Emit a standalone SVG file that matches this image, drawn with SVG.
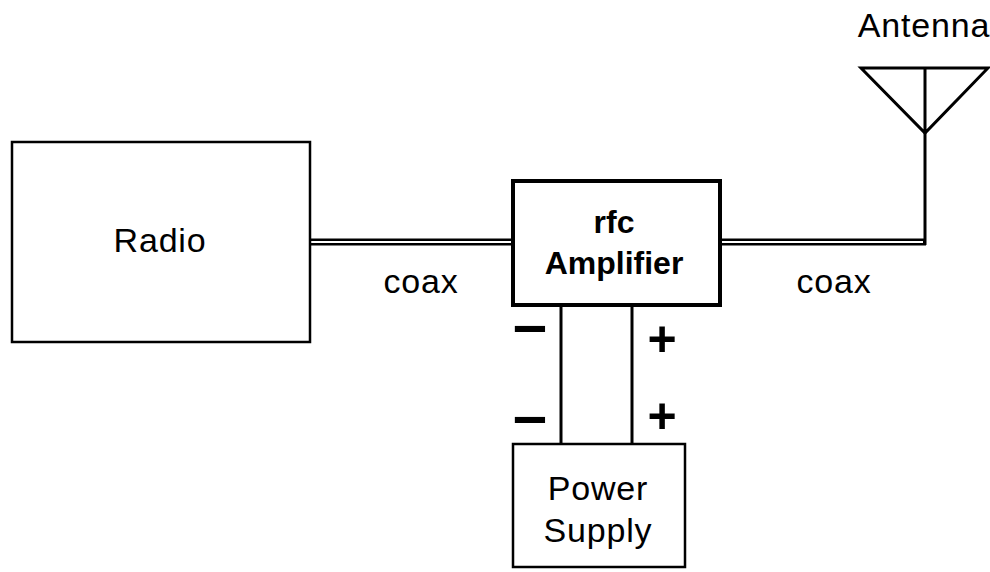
<svg xmlns="http://www.w3.org/2000/svg" width="990" height="572" viewBox="0 0 990 572">
<style>
.box{fill:#fff;stroke:#000;stroke-width:2.5}
.thick{fill:#fff;stroke:#000;stroke-width:4}
.t{font-family:"Liberation Sans",Arial,sans-serif;font-size:34px;letter-spacing:0.8px;fill:#000;text-anchor:middle}
.b{font-weight:bold;font-size:32px;letter-spacing:0}
.sym{font-family:"Liberation Sans",Arial,sans-serif;font-weight:bold;fill:#000}
.wire{stroke:#000;stroke-width:3;fill:none}
.coaxo{stroke:#000;stroke-width:7;fill:none}
.coaxi{stroke:#fff;stroke-width:2;fill:none}
</style>
<rect width="990" height="572" fill="#fff"/>
<g id="connectors">
<line class="coaxo" x1="310" y1="242" x2="513" y2="242"/>
<line class="coaxi" x1="311" y1="242" x2="512" y2="242"/>
<path class="wire" d="M925 245 V133"/>
<line class="coaxo" x1="720" y1="242" x2="926" y2="242"/>
<line class="coaxi" x1="721" y1="242" x2="923" y2="242"/>
<line class="wire" x1="561" y1="305" x2="561" y2="444"/>
<line class="wire" x1="632" y1="305" x2="632" y2="444"/>
</g>
<g id="radio">
<rect class="box" x="12" y="142" width="298" height="200"/>
<text class="t" x="160" y="252">Radio</text>
</g>
<g id="amplifier">
<rect class="thick" x="513" y="181" width="207" height="124"/>
<text class="t b" x="614" y="233">rfc</text>
<text class="t b" x="614" y="274">Amplifier</text>
</g>
<g id="antenna">
<path class="wire" d="M861 68 H988 L925 133 Z M925 68 V133"/>
<text class="t" x="924" y="37">Antenna</text>
</g>
<g id="power-supply">
<rect class="box" x="513" y="444" width="172" height="123"/>
<text class="t" x="598" y="500">Power</text>
<text class="t" x="598" y="542">Supply</text>
</g>
<g id="labels">
<text class="t" x="421" y="293">coax</text>
<text class="t" x="834" y="293">coax</text>
<text class="sym" x="513" y="345" style="font-size:61px">–</text>
<text class="sym" x="513" y="436" style="font-size:61px">–</text>
<text class="sym" x="662" y="356" style="font-size:50px;text-anchor:middle">+</text>
<text class="sym" x="662" y="433" style="font-size:50px;text-anchor:middle">+</text>
</g>
</svg>
